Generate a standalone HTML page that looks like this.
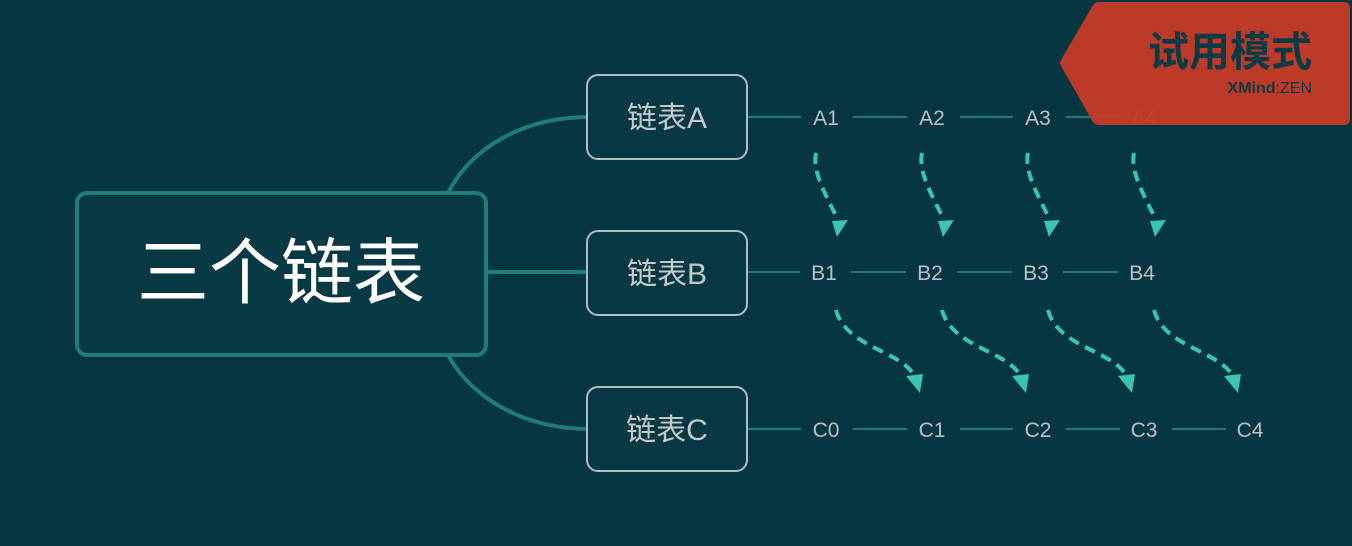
<!DOCTYPE html>
<html><head><meta charset="utf-8"><style>
html,body{margin:0;padding:0;background:#063641;}
svg{display:block}
text{font-family:"Liberation Sans","Noto Sans CJK SC",sans-serif;}
</style></head><body>
<svg width="1352" height="546" viewBox="0 0 1352 546" xmlns="http://www.w3.org/2000/svg">
<rect width="1352" height="546" fill="#063641"/>
<g stroke="#237b78" stroke-width="4" fill="none">
<path d="M448 193 C470 150,520 117,590 117"/>
<path d="M486 272 L588 272"/>
<path d="M448 355 C470 395,520 429,590 429"/>
</g>
<rect x="77" y="193" width="409" height="162" rx="10" fill="#073a44" stroke="#237b78" stroke-width="4"/>
<text x="281" y="298" font-size="72" fill="#ffffff" text-anchor="middle">三个链表</text>
<g fill="#073843" stroke="#b3bcbc" stroke-width="2">
<rect x="587" y="75" width="160" height="84" rx="11"/>
<rect x="587" y="231" width="160" height="84" rx="11"/>
<rect x="587" y="387" width="160" height="84" rx="11"/>
</g>
<g font-size="30" fill="#c3c9c9" text-anchor="middle">
<text x="667" y="128">链表A</text>
<text x="667" y="284">链表B</text>
<text x="667" y="440">链表C</text>
</g>
<g stroke="#237b78" stroke-width="2">
<line x1="748" y1="117" x2="801" y2="117"/><line x1="853" y1="117" x2="907" y2="117"/><line x1="960" y1="117" x2="1013" y2="117"/><line x1="1066" y1="117" x2="1120" y2="117"/>
<line x1="748" y1="272" x2="800" y2="272"/><line x1="851" y1="272" x2="906" y2="272"/><line x1="957" y1="272" x2="1012" y2="272"/><line x1="1063" y1="272" x2="1118" y2="272"/>
<line x1="748" y1="429" x2="801" y2="429"/><line x1="853" y1="429" x2="907" y2="429"/><line x1="960" y1="429" x2="1013" y2="429"/><line x1="1066" y1="429" x2="1120" y2="429"/><line x1="1172" y1="429" x2="1226" y2="429"/>
</g>
<g font-size="21" fill="#b9c0c0" text-anchor="middle">
<text x="826" y="125">A1</text><text x="932" y="125">A2</text><text x="1038" y="125">A3</text><text x="1144" y="125">A4</text>
<text x="824" y="280">B1</text><text x="930" y="280">B2</text><text x="1036" y="280">B3</text><text x="1142" y="280">B4</text>
<text x="826" y="437">C0</text><text x="932" y="437">C1</text><text x="1038" y="437">C2</text><text x="1144" y="437">C3</text><text x="1250" y="437">C4</text>
</g>
<g>
<g id="ab">
<path d="M816 153 C812 172,826 195,838 220" stroke="#3cc4b2" stroke-width="4" fill="none" stroke-dasharray="11,7"/>
<polygon points="832,221 848,220 837,237" fill="#3cc4b2"/>
<path d="M836 310 C845 345,895 350,912 372" stroke="#3cc4b2" stroke-width="4" fill="none" stroke-dasharray="11,7"/>
<polygon points="906,376 923,374 920,393" fill="#3cc4b2"/>
</g>
<use href="#ab" x="106"/>
<use href="#ab" x="212"/>
<use href="#ab" x="318"/>
</g>
<path d="M1061 60 L1093 5 Q1095 2 1099 2 L1344 2 Q1350 2 1350 8 L1350 119 Q1350 125 1344 125 L1099 125 Q1095 125 1093 122 L1061 66 Q1059 63 1061 60 Z" fill="#c53a28" opacity="0.96"/>
<text x="1312" y="66" font-size="41" font-weight="bold" fill="#0c3a44" text-anchor="end">试用模式</text>
<text x="1312" y="93" font-size="16" fill="#0c3a44" text-anchor="end"><tspan font-weight="bold">XMind</tspan>:ZEN</text>
</svg>
</body></html>
